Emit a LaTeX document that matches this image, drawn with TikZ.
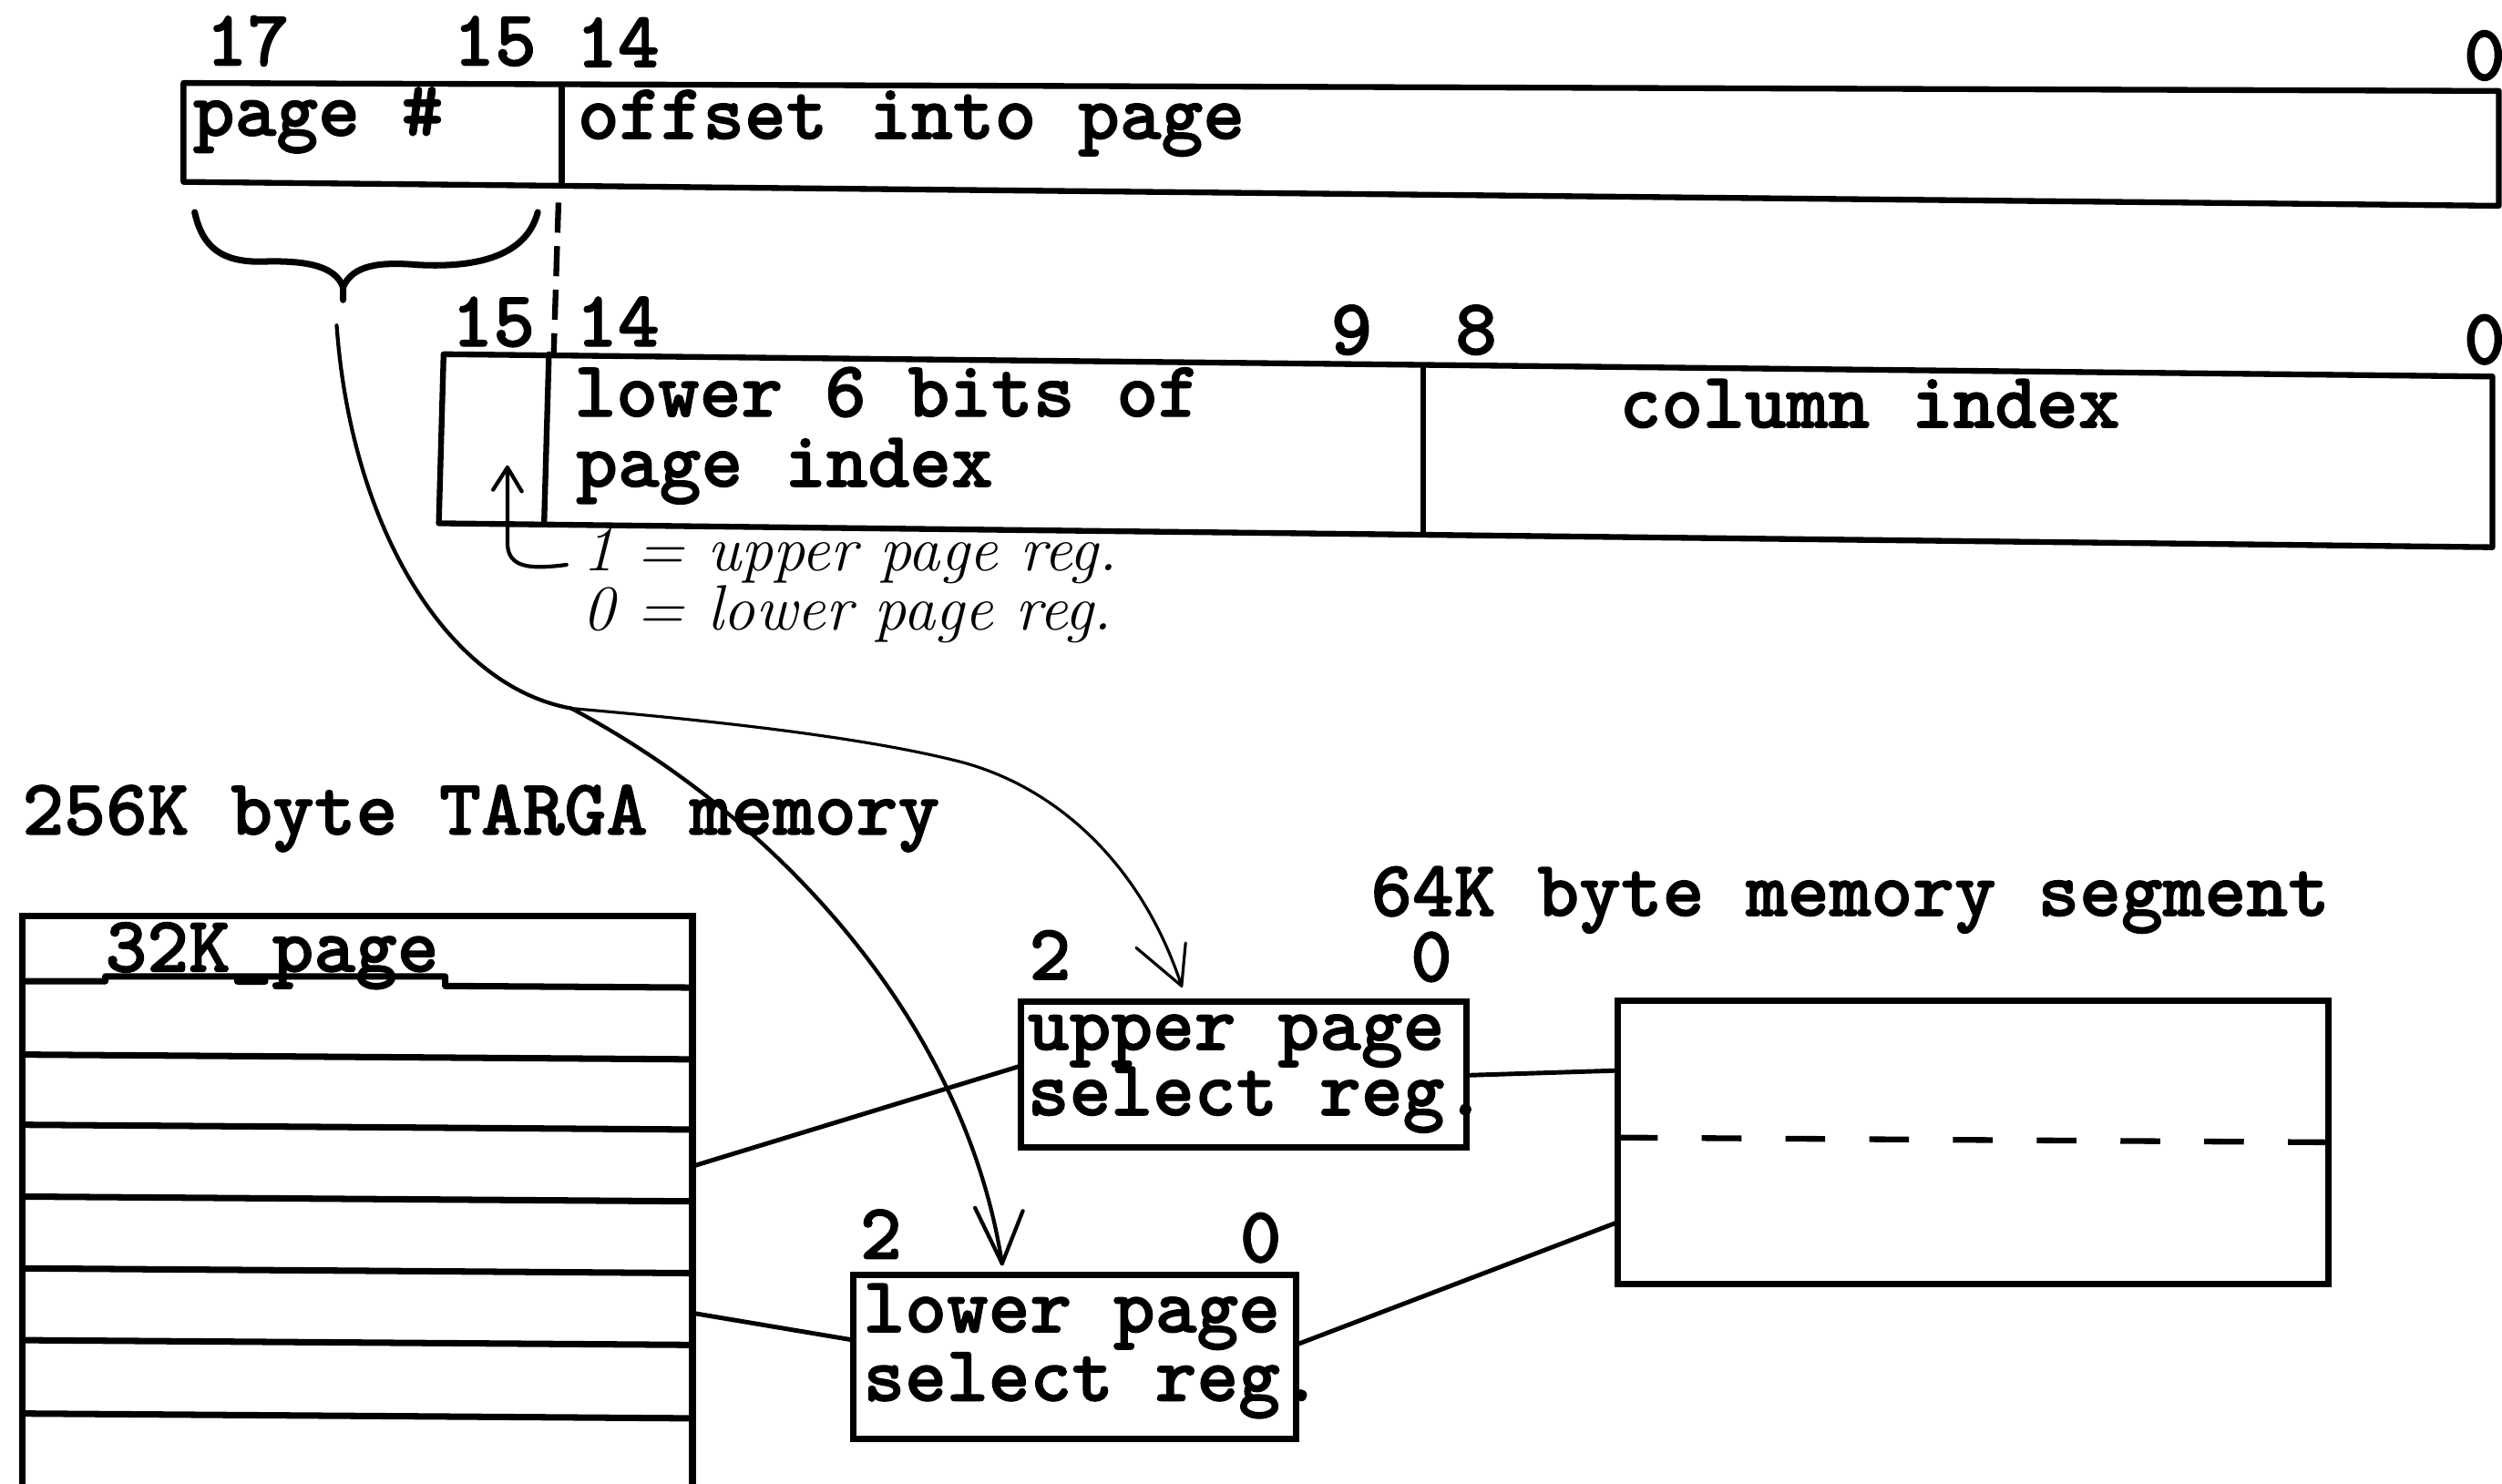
\documentclass[tikz,border=0pt]{standalone}
\usepackage{fontspec}
\newfontfamily\typefont{lmmonolt10-bold.otf}[FakeBold=1.4]
\usetikzlibrary{fit,calc}
\begin{document}
\begin{tikzpicture}[x=0.17513mm,y=-0.17513mm,
  typed/.style={font=\typefont\fontsize{24.8}{26}\selectfont,anchor=base west,inner sep=0pt,outer sep=0pt},
  hand/.style={font=\itshape\fontsize{20}{22}\selectfont,anchor=base west,inner sep=0pt,outer sep=0pt},
  rule/.style={line width=1.8pt,line join=round,line cap=round},
  box/.style={draw,line width=2pt,inner sep=0pt,outer sep=0pt},
  wire/.style={line width=1.4pt,line cap=round},
  pen/.style={line width=1.2pt,line cap=round,line join=round},
  finepen/.style={line width=0.9pt,line cap=round,line join=round}]
\useasboundingbox (0,0) rectangle (1568,930);

% ---- 18-bit TARGA address
\draw[rule] (115,52) -- (1566,57) -- (1566,129) -- (115,114) -- cycle;
\draw[rule] (352,53) -- (352,116);
\node[typed] (a17) at (129,41) {17};
\node[typed] (a15) at (284,41) {15};
\node[typed] (a14) at (361,42) {14};
\node[typed] (a0)  at (1544,50) {0};
\node[typed] (pagenum) at (121,85) {page \#};
\node[typed] (offset)  at (362,87) {offset into page};

% brace over the page number bits
\draw[line width=2pt,line cap=round,line join=round]
  (122,133) .. controls (127,156) and (140,164) .. (163,164)
  .. controls (190,163) and (210,166) .. (215,180) -- (215,188);
\draw[line width=2pt,line cap=round,line join=round]
  (215,180) .. controls (221,166) and (238,164) .. (262,166)
  .. controls (300,168) and (330,160) .. (337,133);

% dashed alignment of bit 15/14 boundary
\draw[rule,line cap=butt,dash pattern=on 9.4pt off 4.2pt] (350,127) -- (347,222);

% ---- 16-bit host address
\draw[rule] (278,222) -- (1562,236) -- (1562,343) -- (275,328) -- cycle;
\draw[rule] (344,222) -- (341,328);
\draw[rule] (892,229) -- (892,335);
\node[typed] (b15) at (283,217) {15};
\node[typed] (b14) at (361,217) {14};
\node[typed] (b9)  at (834,222) {9};
\node[typed] (b8)  at (912,222) {8};
\node[typed] (b0)  at (1544,228) {0};
\node[typed] (low6)  at (360,261) {lower 6 bits of};
\node[typed] (pidx)  at (361,305) {page index};
\node[typed] (colidx) at (1015,268) {column index};

% select bit note
\coordinate (selTip) at (318,293);
\draw[pen] (355,354) .. controls (332,357) and (318,356) .. (318,340) -- (selTip);
\draw[pen] (309,307) -- (selTip) -- (327,308);
\node[hand] (noteA) at (365,358) {1 = upper page reg.};
\node[hand] (noteB) at (365,395) {0 = lower page reg.};

% ---- TARGA memory
\node[typed] (memtitle) at (14,523) {256K byte TARGA memory};
\node[box,line width=2.1pt,fit={(14,574) (434,945)}] (mem) {};
\draw[rule,line width=2pt] (14,615) -- (66,615) -- (66,612) -- (279,612) -- (279,618) -- (434,619);
\node[typed] (pagelbl) at (66,609) {32K\_page};
\draw[rule,line width=2pt] (14,661) -- (434,664);
\draw[rule,line width=2pt] (14,705) -- (434,708);
\draw[rule,line width=2pt] (14,750) -- (434,753);
\draw[rule,line width=2pt] (14,795) -- (434,798);
\draw[rule,line width=2pt] (14,840) -- (434,843);
\draw[rule,line width=2pt] (14,886) -- (434,889);

% ---- page select registers
\node[box,fit={(640,628) (919,719)}] (upreg) {};
\node[typed] (up2) at (645,614) {2};
\node[typed] (up0) at (884,615) {0};
\node[typed] (upA) at (644,658) {upper page};
\node[typed] (upB) at (644,699) {select reg.};

\node[box,fit={(535,799) (812,902)}] (lowreg) {};
\node[typed] (lo2) at (539,789) {2};
\node[typed] (lo0) at (777,791) {0};
\node[typed] (loA) at (541,835) {lower page};
\node[typed] (loB) at (541,878) {select reg.};

% ---- 64K segment
\node[typed] (segtitle) at (859,574) {64K byte memory segment};
\node[box,fit={(1014,627) (1459,805)}] (seg) {};
\draw[rule,line cap=butt,dash pattern=on 12.4pt off 13.75pt] (seg.west |- 0,713) -- (seg.east |- 0,716);

% ---- wiring
\draw[wire] (mem.east |- 0,731) -- (upreg.west |- 0,668);
\draw[wire] (mem.east |- 0,823) -- (lowreg.west |- 0,840);
\draw[wire] (upreg.east |- 0,674) -- (seg.west |- 0,671);
\draw[wire] (lowreg.east |- 0,843) -- (seg.west |- 0,766);

% ---- page number routing
\coordinate (braceTip) at (211,204);
\coordinate (fork) at (358,444);
\coordinate (upTip) at (740.5,618);
\coordinate (lowTip) at (628,792);
\draw[pen] (braceTip) .. controls (220,330) and (280,430) .. (fork);
\draw[finepen] (fork) .. controls (450,452) and (540,462) .. (600,477)
  .. controls (660,492) and (715,540) .. (upTip);
\draw[finepen] (upTip) -- +(-28.5,-24);
\draw[finepen] (upTip) -- +(2.5,-27);
\draw[pen] (fork) .. controls (490,514) and (605,643) .. (lowTip);
\draw[pen] (lowTip) -- +(-17,-35);
\draw[pen] (lowTip) -- +(13,-33);
\end{tikzpicture}
\end{document}
